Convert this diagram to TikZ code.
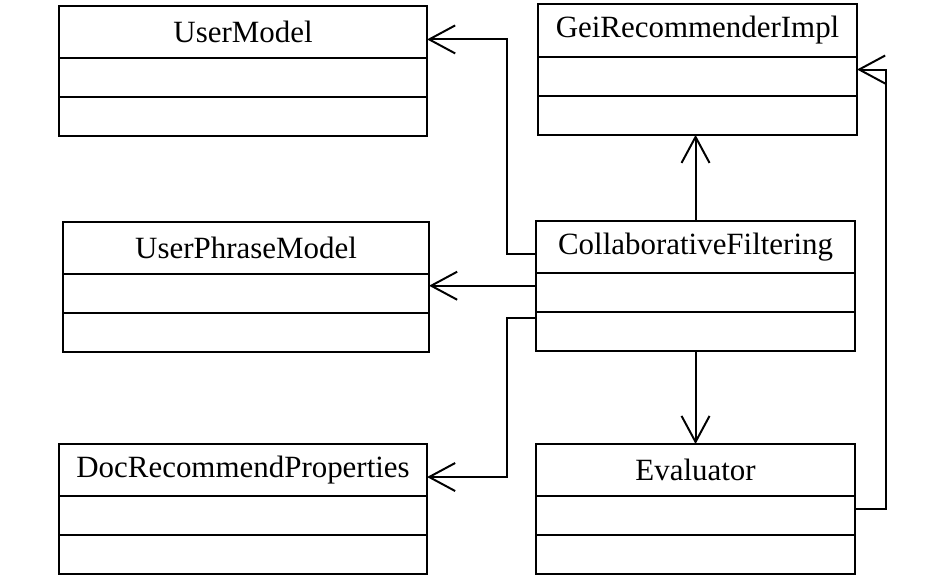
\documentclass[tikz,border=0pt]{standalone}
\usepackage{fontspec}
\setmainfont{Liberation Serif}
\usetikzlibrary{arrows.meta,positioning}

\begin{document}
\begin{tikzpicture}[x=0.025cm,y=-0.025cm,line width=1.4pt,
  >={Straight Barb[length=6.5mm,width=7mm]},
  cbox/.style={draw,outer sep=0pt,inner sep=0pt,minimum width=#1},
  title/.style={cbox=#1,minimum height=1.29cm,font=\fontsize{22}{26}\selectfont},
  part/.style={cbox=#1,minimum height=0.975cm}]
  \useasboundingbox (0,0) rectangle (946,575);
  % left column
  \node[title=9.2cm,anchor=north west] (um) at (59,6) {UserModel};
  \node[part=9.2cm,below=0pt of um] (uma) {};
  \node[part=9.2cm,below=0pt of uma] (umo) {};
  \node[title=9.15cm,anchor=north west] (upm) at (63,222) {UserPhraseModel};
  \node[part=9.15cm,below=0pt of upm] (upma) {};
  \node[part=9.15cm,below=0pt of upma] (upmo) {};
  \node[title=9.2cm,anchor=north west] (drp) at (59,444) {DocRecommendProperties};
  \node[part=9.2cm,below=0pt of drp] (drpa) {};
  \node[part=9.2cm,below=0pt of drpa] (drpo) {};
  % right column
  \node[title=7.975cm,anchor=north west,minimum height=1.32cm] (gei) at (538,4) {GeiRecommenderImpl};
  \node[part=7.975cm,below=0pt of gei] (geia) {};
  \node[part=7.975cm,below=0pt of geia] (geio) {};
  \node[title=7.975cm,anchor=north west] (cf) at (536,221) {CollaborativeFiltering};
  \node[part=7.975cm,below=0pt of cf] (cfa) {};
  \node[part=7.975cm,below=0pt of cfa] (cfo) {};
  \node[title=7.975cm,anchor=north west] (ev) at (536,444) {Evaluator};
  \node[part=7.975cm,below=0pt of ev] (eva) {};
  \node[part=7.975cm,below=0pt of eva] (evo) {};
  % dependencies
  \draw[->] ([yshift=-1.9mm]cf.west) -- ++(-29,0) |- ([yshift=-1.9mm]um.east);
  \draw[->] ([yshift=1.6mm]cfa.west) -- ([yshift=1.6mm]cfa.west -| upma.east);
  \draw[->] ([yshift=3.4mm]cfo.west) -- ++(-29,0) |- ([yshift=-1.8mm]drp.east);
  \draw[->] (cf.north) -- (cf.north |- geio.south);
  \draw[->] (cfo.south) -- (cfo.south |- ev.north);
  \draw[->] ([yshift=1.5mm]eva.east) -- ++(31,0) |- ([yshift=1.7mm]geia.east);
\end{tikzpicture}
\end{document}
